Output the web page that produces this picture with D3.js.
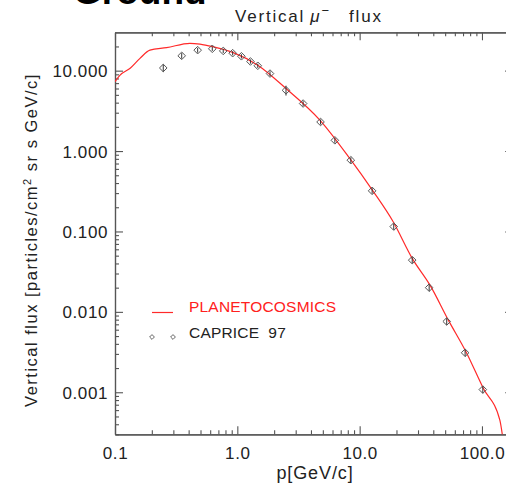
<!DOCTYPE html>
<html><head><meta charset="utf-8">
<script src="https://cdn.jsdelivr.net/npm/d3@7"></script>
<style>
html,body{margin:0;padding:0;background:#fff;overflow:hidden}
text{font-family:"Liberation Sans",Arial,Helvetica,sans-serif}
</style>
</head><body>
<svg id="chart" width="506" height="489"></svg>
<script>
// CAPRICE 97 measurements: momentum (GeV/c), vertical flux, relative error
const capriceP = [0.248, 0.351, 0.474, 0.624, 0.767, 0.916, 1.08, 1.28, 1.47, 1.85, 2.50, 3.45, 4.79, 6.27, 8.47, 12.65, 19.0, 26.9, 37.0, 51.5, 72.8, 101.6];
const capriceFlux = [10.8, 15.3, 18.0, 18.7, 17.6, 16.5, 15.1, 13.0, 11.5, 9.2, 5.7, 3.9, 2.3, 1.36, 0.77, 0.32, 0.115, 0.044, 0.020, 0.0076, 0.0031, 0.00108];
const capriceErr = [0.11, 0.08, 0.07, 0.06, 0.06, 0.06, 0.06, 0.06, 0.06, 0.07, 0.14, 0.07, 0.07, 0.07, 0.08, 0.08, 0.09, 0.09, 0.10, 0.10, 0.10, 0.10];

// PLANETOCOSMICS simulated spectrum
const planetoP = [0.1, 0.110, 0.133, 0.160, 0.193, 0.264, 0.41, 0.495, 0.636, 0.916, 1.47, 2.5, 4.73, 8.3, 12.7, 18.8, 26.9, 37.6, 53.1, 74, 102.5, 140, 148];
const planetoFlux = [7.3, 8.8, 10.7, 14.2, 18.0, 19.3, 21.9, 21.4, 19.8, 16.9, 11.7, 6.0, 2.43, 0.81, 0.327, 0.132, 0.0463, 0.0215, 0.0079, 0.00319, 0.00112, 0.00045, 0.00027];

// Axis ticks and labels
const xMajor = [0.1, 1, 10, 100];
const xMajorLabels = ["0.1", "1.0", "10.0", "100.0"];
const yMajor = [0.001, 0.01, 0.1, 1, 10];
const yMajorLabels = ["0.001", "0.010", "0.100", "1.000", "10.000"];

const legendNames = ["PLANETOCOSMICS", "CAPRICE 97"];

const svg = d3.select("#chart");
const L = 115, R = 513.2, T = 32.3, B = 434.3;
const x = d3.scaleLog().domain([0.1, 180]).range([L, R]);
const y = d3.scaleLog().domain([3e-4, 30]).range([B, T]);

function minors(decades, domain) {
  const out = [];
  decades.forEach(d => { for (let k = 2; k <= 9; k++) { const v = k * d; if (v > domain[0] && v < domain[1]) out.push(v); } });
  return out;
}
const xMinor = minors([0.1, 1, 10, 100], x.domain());
const yMinor = minors([1e-4, 1e-3, 1e-2, 0.1, 1, 10], y.domain());

const axisColor = "#555";
function styleAxis(g) {
  g.selectAll("path.domain").attr("stroke", axisColor).attr("stroke-width", 1.2);
  g.selectAll(".tick line").attr("stroke", axisColor).attr("stroke-width", 1.1);
}

// Bottom axis
const gb = svg.append("g").attr("transform", `translate(0,${B})`);
gb.call(d3.axisBottom(x).tickValues(xMinor).tickSize(-4).tickSizeOuter(0).tickFormat(""));
const gb2 = svg.append("g").attr("transform", `translate(0,${B})`);
gb2.call(d3.axisBottom(x).tickValues(xMajor).tickSize(-8).tickSizeOuter(0).tickFormat((d, i) => xMajorLabels[i]));
gb2.selectAll("text").attr("y", 25).attr("dy", 0).attr("font-size", 17).attr("fill", "#222")
  .attr("letter-spacing", 0.6).attr("font-family", '"Liberation Sans",Arial,sans-serif');
styleAxis(gb); styleAxis(gb2);

// Top axis
const gt = svg.append("g").attr("transform", `translate(0,${T})`);
gt.call(d3.axisTop(x).tickValues(xMinor).tickSize(-4).tickSizeOuter(0).tickFormat(""));
const gt2 = svg.append("g").attr("transform", `translate(0,${T})`);
gt2.call(d3.axisTop(x).tickValues(xMajor).tickSize(-8).tickSizeOuter(0).tickFormat(""));
styleAxis(gt); styleAxis(gt2);

// Left axis
const gl = svg.append("g").attr("transform", `translate(${L},0)`);
gl.call(d3.axisLeft(y).tickValues(yMinor).tickSize(-4).tickSizeOuter(0).tickFormat(""));
const gl2 = svg.append("g").attr("transform", `translate(${L},0)`);
gl2.call(d3.axisLeft(y).tickValues(yMajor).tickSize(-8).tickSizeOuter(0).tickFormat((d, i) => yMajorLabels[i]));
gl2.selectAll("text").attr("x", -7).attr("dy", "0.36em").attr("font-size", 17).attr("fill", "#222")
  .attr("letter-spacing", 0.6).attr("font-family", '"Liberation Sans",Arial,sans-serif');
styleAxis(gl); styleAxis(gl2);

// Right axis
const gr = svg.append("g").attr("transform", `translate(${R},0)`);
gr.call(d3.axisRight(y).tickValues(yMajor).tickSize(-8).tickSizeOuter(0).tickFormat(""));
styleAxis(gr);

// Clip region for the data
svg.append("clipPath").attr("id", "plotclip").append("rect")
  .attr("x", L).attr("y", T).attr("width", R - L).attr("height", B - T);

// Simulation curve
const curveData = planetoP.map((p, i) => ({p, f: planetoFlux[i]}));
svg.append("path").datum(curveData)
  .attr("clip-path", "url(#plotclip)")
  .attr("fill", "none").attr("stroke", "#ff2a2a").attr("stroke-width", 1.2)
  .attr("d", d3.line().x(d => x(d.p)).y(d => y(d.f)).curve(d3.curveMonotoneX));

// Measured points: hollow diamonds with vertical error bars
const pts = capriceP.map((p, i) => ({p, f: capriceFlux[i], e: capriceErr[i]}));
const diamond = r => `M0,${-r}L${r},0L0,${r}L${-r},0Z`;
const gp = svg.append("g").attr("clip-path", "url(#plotclip)");
gp.selectAll("line.err").data(pts).join("line").attr("class", "err")
  .attr("x1", d => x(d.p)).attr("x2", d => x(d.p))
  .attr("y1", d => y(d.f * (1 - d.e))).attr("y2", d => y(d.f * (1 + d.e)))
  .attr("stroke", "#333").attr("stroke-width", 1);
gp.selectAll("path.pt").data(pts).join("path").attr("class", "pt")
  .attr("transform", d => `translate(${x(d.p)},${y(d.f)})`)
  .attr("d", diamond(3.8)).attr("fill", "none").attr("stroke", "#555").attr("stroke-width", 1);

// Legend
const leg = svg.append("g");
leg.append("line").attr("x1", 152).attr("x2", 173).attr("y1", 312.5).attr("y2", 312.5)
  .attr("stroke", "#ff2a2a").attr("stroke-width", 1.2);
leg.append("text").attr("x", 189).attr("y", 312).attr("font-size", 15.5).attr("fill", "#ff2020")
  .attr("letter-spacing", 0.2).text(legendNames[0]);
[152, 173].forEach(cx => leg.append("path").attr("transform", `translate(${cx},337)`)
  .attr("d", diamond(2.4)).attr("fill", "none").attr("stroke", "#666").attr("stroke-width", 1));
leg.append("text").attr("x", 189).attr("y", 337.5).attr("font-size", 15.5).attr("fill", "#222")
  .attr("letter-spacing", 0.2).attr("xml:space", "preserve").text("CAPRICE  97");

// Title
const title = svg.append("text").attr("x", 235).attr("y", 21.7).attr("font-size", 17).attr("fill", "#222");
title.append("tspan").attr("letter-spacing", 1.8).text("Vertical");
title.append("tspan").attr("dx", 5).attr("font-style", "italic").text("μ");
title.append("tspan").attr("dx", 2).attr("dy", -7).attr("font-size", 13).text("−");
title.append("tspan").attr("dx", 20).attr("dy", 7).attr("letter-spacing", 1.8).text("flux");

// Axis titles
svg.append("text").attr("x", 315).attr("y", 479).attr("text-anchor", "middle")
  .attr("font-size", 18).attr("letter-spacing", 0.9).attr("fill", "#222").text("p[GeV/c]");
const yt = svg.append("text").attr("transform", "translate(36.5,240) rotate(-90)")
  .attr("text-anchor", "middle").attr("font-size", 16.5).attr("letter-spacing", 1.5).attr("fill", "#222");
yt.append("tspan").text("Vertical flux [particles/cm");
yt.append("tspan").attr("dy", -6).attr("font-size", 11).text("2");
yt.append("tspan").attr("dy", 6).text(" sr s GeV/c]");

// Slide heading, mostly cut off at the top
svg.append("text").attr("x", 73).attr("y", 4).attr("font-size", 37).attr("font-weight", "bold")
  .attr("fill", "#000").text("Ground");
</script>
</body></html>
